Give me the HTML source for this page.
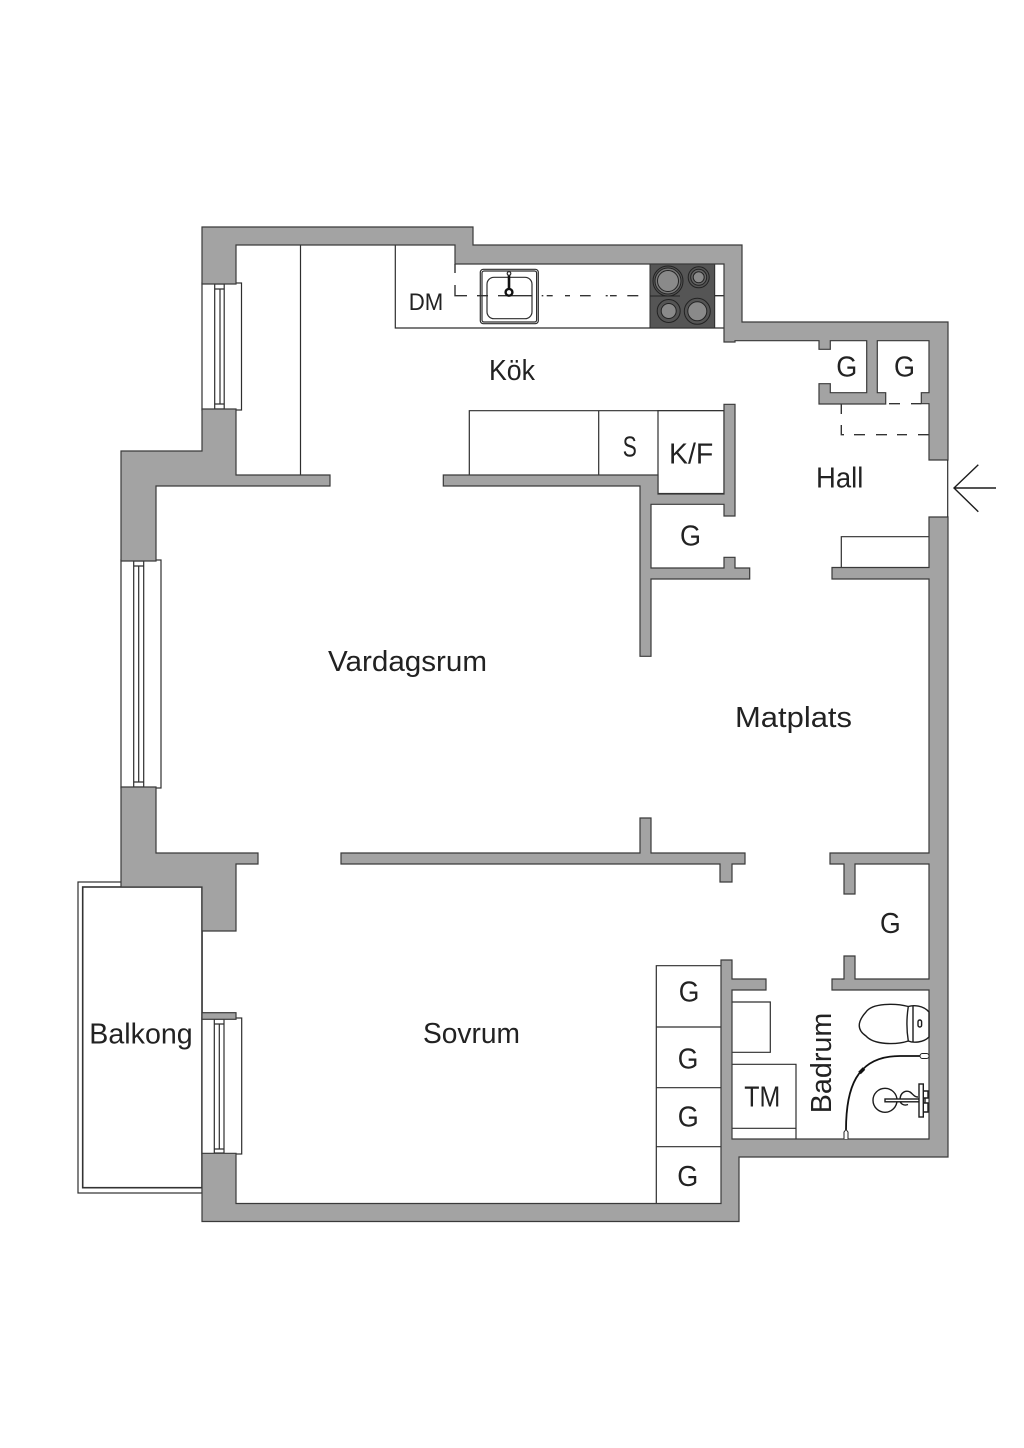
<!DOCTYPE html>
<html lang="sv">
<head>
<meta charset="utf-8">
<title>Planritning</title>
<style>
html,body{margin:0;padding:0;background:#fff}
svg{display:block}
text{font-family:"Liberation Sans",sans-serif;fill:#222;font-size:28.5px}
.w{fill:#a3a3a3;stroke:#3a3a3a;stroke-width:1.2;stroke-linejoin:miter}
.l{fill:none;stroke:#2e2e2e;stroke-width:1.2}
.f{fill:#fff;stroke:#2e2e2e;stroke-width:1.2}
.d{fill:none;stroke:#333;stroke-width:1.4}
.b{fill:#8a8a8a;stroke:#222;stroke-width:1}
.t{fill:none;stroke:#1c1c1c;stroke-width:1.4}
</style>
</head>
<body>
<svg width="1024" height="1448" viewBox="0 0 1024 1448" xmlns="http://www.w3.org/2000/svg">
<rect width="1024" height="1448" fill="#fff"/>

<!-- Balcony -->
<rect x="78" y="882" width="124" height="311" class="f"/>
<rect x="82.7" y="887" width="119.3" height="300.7" fill="#fff" stroke="#333" stroke-width="1.6"/>

<!-- Windows -->
<g class="l">
<rect x="202" y="283" width="39.5" height="127" class="f"/>
<rect x="214.7" y="284" width="9.5" height="125"/>
<path d="M220 289V404M214.7 289H224.2M214.7 404H224.2"/>
<rect x="121" y="560" width="40" height="228" class="f"/>
<rect x="133.7" y="561" width="10" height="226"/>
<path d="M138.7 566V782M133.7 566H143.7M133.7 782H143.7"/>
<rect x="202" y="1018" width="39.7" height="136" class="f"/>
<rect x="214.3" y="1019" width="9.7" height="134"/>
<path d="M219.3 1024V1149M214.3 1024H224M214.3 1149H224"/>
</g>

<!-- Fixtures -->
<g class="l">
<path d="M300.5 245V475"/>
<path d="M395.3 245V328H724"/>
<path d="M469.3 475V410.7H724"/>
<path d="M598.7 410.7V475"/>
<rect x="658" y="410.7" width="66" height="82.8" class="f"/>
<path d="M841.3 567.5V536.7H929"/>
<path d="M656.3 1203V965.7H721M656.3 1027H721M656.3 1087.7H721M656.3 1146.7H721"/>
<path d="M732 1002H770.3V1052.3H732"/>
<path d="M732 1064.3H796V1139M732 1128.3H796"/>
</g>

<!-- Dashed lines -->
<g class="d">
<path d="M455 264V273M455 285V295.7H467M477 295.7H488M498 295.7H532M541.7 295.7H543.3M546.7 295.7H552.7M565 295.7H570M580 295.7H590.7M605.7 295.7H607.7M610 295.7H616.7M627.3 295.7H638.3M650 295.7H680M713.3 295.7H724"/>
<path d="M889 403.7H900M911 403.7H921.3"/>
<path d="M841.3 404V414M841.3 425V434.7H844M854 434.7H865M876 434.7H887M897 434.7H907M918 434.7H929"/>
</g>

<!-- Sink -->
<g class="l">
<rect x="480.3" y="269.3" width="58" height="54.4" rx="3"/>
<rect x="482" y="271" width="54.6" height="51" rx="2"/>
<rect x="487" y="277.3" width="45" height="41.4" rx="7"/>
<path d="M509 274V292" stroke="#111" stroke-width="2.6"/>
<circle cx="509" cy="273.5" r="1.8" fill="#fff"/>
<circle cx="509" cy="292.3" r="3.4" fill="#fff" stroke="#111" stroke-width="2.4"/>
</g>

<!-- Hob -->
<rect x="650" y="264" width="64.7" height="64" fill="#555" stroke="#2a2a2a" stroke-width="1"/>
<path d="M650 296H680M692 283.5H702" stroke="#222" stroke-width="1"/>
<g class="b">
<circle cx="668" cy="281" r="15" fill="#555"/><circle cx="668" cy="281" r="13" fill="#777"/><circle cx="668" cy="281" r="10.5"/>
<circle cx="697.3" cy="311.3" r="13" fill="#555"/><circle cx="697.3" cy="311.3" r="9.5"/>
<circle cx="698.7" cy="277.3" r="10.5" fill="#555"/><circle cx="698.7" cy="277.3" r="8" fill="#666"/><circle cx="698.7" cy="277.3" r="5.5"/>
<circle cx="668.7" cy="311" r="11.5" fill="#555"/><circle cx="668.7" cy="311" r="7.5"/>
</g>

<!-- Walls -->
<path class="w" d="M202 227H473V245H742V322H948V460H929V403.7H921.3V392.7H929V340.7H877.3V392.7H885.7V404H819V383.7H830.3V392.7H866.7V340.7H830.3V349.3H819V340.7H735V342H724V264H455V245H236V284H202Z"/>
<path class="w" d="M929 517H948V1157H739V1221.5H202V1153.3H236V1203.5H721V960H732V979H766V990H732V1139H929V990H832V979H844V956H855V979H929V864H855V894H844V864H830V853H929V579H832V567.5H929Z"/>
<path class="w" d="M202 409H236V475H330V486H156V561H121V451H202Z"/>
<path class="w" d="M121 787H156V853H258V864H236V931H202V887H121Z"/>
<path class="w" d="M341 853H640V818H651V853H745V864H732V882H720V864H341Z"/>
<path class="w" d="M443.3 475H658V494H724V404.3H735V516H724V504.3H651V568H724V557.3H735V568H749.7V579H651V656.3H640V486H443.3Z"/>
<rect x="202" y="1012.7" width="34" height="6.6" class="w"/>

<!-- Door line & arrow -->
<path class="l" d="M947.7 460V517"/>
<path d="M996 488H954M978.3 464.7L954 488L978.3 511.7" fill="none" stroke="#1c1c1c" stroke-width="1.4"/>

<!-- Toilet -->
<g class="t">
<path d="M908.3 1006.5C895 1003 872 1003 866 1012C857 1022 857 1030 866 1036C874 1045 896 1045 908.3 1041"/>
<path d="M908.3 1006.5C906.5 1018 906.5 1030 908.3 1041C913 1043 923 1043 929 1037V1012C923 1005 913 1005 908.3 1006.5Z" fill="#fff"/>
<path d="M913 1006V1042"/>
<rect x="918" y="1020" width="3.6" height="7" rx="1.8"/>
</g>
<!-- Shower arc -->
<g>
<path d="M846 1130C846 1090 855 1056 900 1056H922" fill="none" stroke="#111" stroke-width="1.8"/>
<path d="M859.5 1073L864 1068.5" stroke="#111" stroke-width="3.5"/>
<rect x="920" y="1053.5" width="9" height="5" rx="2.4" fill="#fff" stroke="#222"/>
<path d="M844 1139V1132L846 1129.5L848 1132V1139" fill="#fff" stroke="#222"/>
</g>
<!-- Sink bath -->
<g class="t" stroke-width="1.1">
<circle cx="885" cy="1100.3" r="12"/>
<path d="M900 1100C900 1092 906 1090 910 1092C913 1094 914 1097 918 1097M900 1100C900 1104 904 1106 908 1104.5"/>
<rect x="885" y="1099" width="36" height="2.8" fill="#fff"/>
<rect x="919" y="1084" width="4.3" height="33" fill="#fff"/>
<path d="M923 1091H928V1098H923M923 1103H928V1112H923M925 1098V1103"/>
</g>

<!-- Labels -->
<text x="489" y="380" textLength="46" lengthAdjust="spacingAndGlyphs">Kök</text>
<text x="408.7" y="310" textLength="34.5" lengthAdjust="spacingAndGlyphs" style="font-size:24.5px">DM</text>
<text x="622.7" y="456.7" textLength="14" lengthAdjust="spacingAndGlyphs">S</text>
<text x="669" y="463.3" textLength="44.3" lengthAdjust="spacingAndGlyphs">K/F</text>
<text x="836.3" y="376.7" textLength="21" lengthAdjust="spacingAndGlyphs">G</text>
<text x="894" y="376.7" textLength="21" lengthAdjust="spacingAndGlyphs">G</text>
<text x="816" y="487.7" textLength="47.3" lengthAdjust="spacingAndGlyphs">Hall</text>
<text x="680" y="545.7" textLength="21" lengthAdjust="spacingAndGlyphs">G</text>
<text x="328" y="671" textLength="159" lengthAdjust="spacingAndGlyphs">Vardagsrum</text>
<text x="735" y="727" textLength="117" lengthAdjust="spacingAndGlyphs">Matplats</text>
<text x="423" y="1043" textLength="97" lengthAdjust="spacingAndGlyphs">Sovrum</text>
<text x="89.3" y="1043.3" textLength="103.4" lengthAdjust="spacingAndGlyphs">Balkong</text>
<text x="880" y="933" textLength="20.7" lengthAdjust="spacingAndGlyphs">G</text>
<text x="678.7" y="1001.7" textLength="20.6" lengthAdjust="spacingAndGlyphs">G</text>
<text x="677.7" y="1068.3" textLength="20.6" lengthAdjust="spacingAndGlyphs">G</text>
<text x="677.7" y="1126.7" textLength="21" lengthAdjust="spacingAndGlyphs">G</text>
<text x="677.3" y="1186" textLength="21" lengthAdjust="spacingAndGlyphs">G</text>
<text x="744.3" y="1106.7" textLength="36" lengthAdjust="spacingAndGlyphs">TM</text>
<text transform="translate(831 1113.3) rotate(-90)" x="0" y="0" textLength="100.6" lengthAdjust="spacingAndGlyphs">Badrum</text>
</svg>
</body>
</html>
